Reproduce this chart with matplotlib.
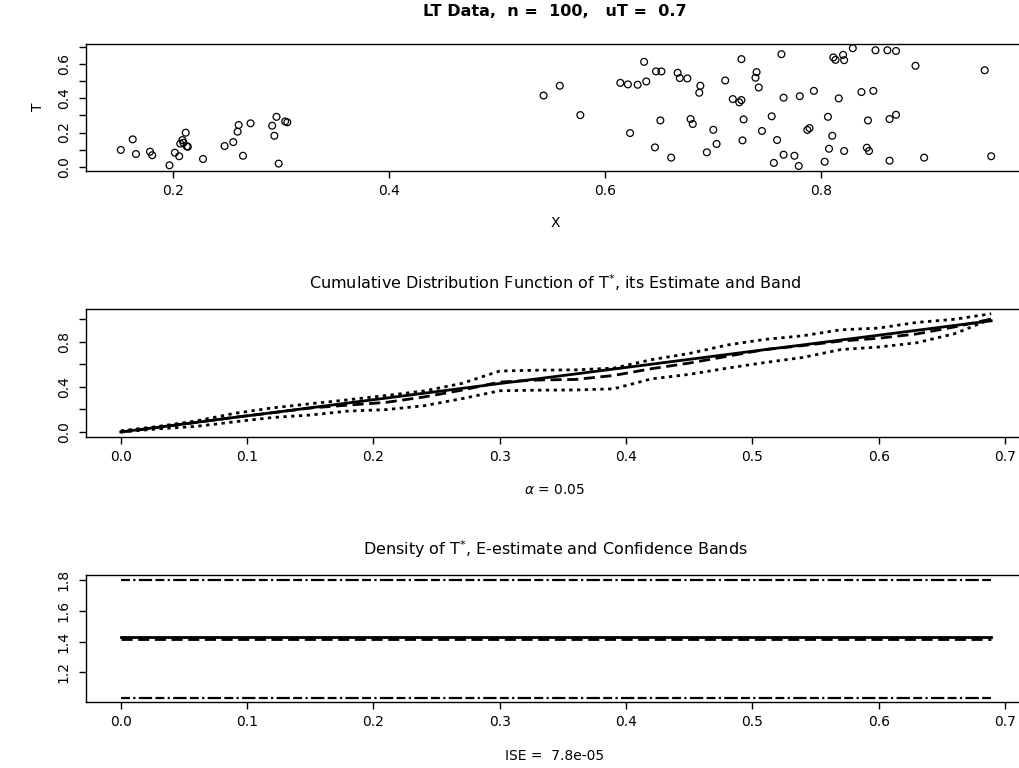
import matplotlib
matplotlib.use("Agg")
import matplotlib.pyplot as plt

plt.rcParams['font.family'] = ['DejaVu Sans']
plt.rcParams['mathtext.fontset'] = 'dejavusans'

# %% data
# LT data: predictor X and observed time T
x_data = [0.152, 0.163, 0.166, 0.179, 0.181, 0.197, 0.202, 0.206, 0.207, 0.209,
          0.210, 0.212, 0.213, 0.214, 0.228, 0.248, 0.256, 0.260, 0.261, 0.265,
          0.272, 0.292, 0.294, 0.296, 0.298, 0.304, 0.306,
          0.543, 0.558, 0.577, 0.614, 0.621, 0.623, 0.630, 0.636, 0.638, 0.646,
          0.647, 0.652, 0.651, 0.661, 0.667, 0.669, 0.676, 0.679, 0.681, 0.688,
          0.687, 0.694, 0.700, 0.703, 0.711, 0.718, 0.726, 0.724, 0.726, 0.727,
          0.728, 0.740, 0.739, 0.742, 0.745, 0.754, 0.756, 0.759, 0.763, 0.765,
          0.765, 0.775, 0.779, 0.780, 0.787, 0.789, 0.793, 0.803, 0.806, 0.807,
          0.810, 0.811, 0.813, 0.816, 0.820, 0.821, 0.821, 0.829, 0.837, 0.842,
          0.843, 0.844, 0.848, 0.850, 0.861, 0.869, 0.863, 0.863, 0.869, 0.887,
          0.895, 0.951, 0.957]
t_data = [0.098, 0.160, 0.074, 0.088, 0.067, 0.008, 0.082, 0.061, 0.135, 0.156,
          0.140, 0.199, 0.119, 0.117, 0.045, 0.121, 0.144, 0.205, 0.244, 0.064,
          0.254, 0.240, 0.181, 0.292, 0.018, 0.265, 0.260,
          0.417, 0.474, 0.302, 0.491, 0.482, 0.197, 0.480, 0.614, 0.499, 0.113,
          0.558, 0.558, 0.271, 0.053, 0.550, 0.519, 0.517, 0.279, 0.250, 0.474,
          0.433, 0.084, 0.216, 0.133, 0.505, 0.396, 0.390, 0.377, 0.630, 0.154,
          0.277, 0.554, 0.521, 0.464, 0.209, 0.295, 0.022, 0.156, 0.659, 0.404,
          0.070, 0.064, 0.004, 0.413, 0.215, 0.226, 0.444, 0.029, 0.292, 0.105,
          0.181, 0.640, 0.626, 0.400, 0.655, 0.624, 0.092, 0.694, 0.437, 0.111,
          0.271, 0.092, 0.444, 0.682, 0.682, 0.678, 0.035, 0.279, 0.304, 0.591,
          0.053, 0.565, 0.061]

# CDF of T*: true, estimate and band
t_grid = [0.0, 0.03, 0.06, 0.09, 0.12, 0.15, 0.18, 0.21, 0.24, 0.27, 0.30, 0.33,
          0.36, 0.39, 0.42, 0.45, 0.48, 0.51, 0.54, 0.57, 0.60, 0.63, 0.66, 0.689]
cdf_true = [0.0, 0.043, 0.086, 0.129, 0.171, 0.214, 0.257, 0.300, 0.343, 0.386,
            0.429, 0.471, 0.514, 0.557, 0.600, 0.643, 0.686, 0.729, 0.771, 0.814,
            0.857, 0.900, 0.943, 0.984]
cdf_est = [0.0, 0.040, 0.085, 0.130, 0.170, 0.212, 0.238, 0.262, 0.310, 0.370,
           0.442, 0.460, 0.465, 0.500, 0.560, 0.610, 0.670, 0.730, 0.765, 0.805,
           0.830, 0.868, 0.930, 1.000]
cdf_up = [0.010, 0.050, 0.098, 0.165, 0.213, 0.250, 0.285, 0.323, 0.363, 0.430,
          0.540, 0.547, 0.550, 0.565, 0.640, 0.695, 0.770, 0.820, 0.852, 0.905,
          0.920, 0.970, 0.998, 1.047]
cdf_low = [0.0, 0.028, 0.050, 0.090, 0.128, 0.150, 0.185, 0.198, 0.232, 0.295,
           0.365, 0.370, 0.372, 0.382, 0.470, 0.510, 0.565, 0.615, 0.660, 0.730,
           0.752, 0.790, 0.870, 1.000]

# density of T*: true, E-estimate and bands
t_dens = [0.0, 0.689]
dens_true = [1.4286, 1.4286]
dens_est = [1.418, 1.418]
dens_up = [1.800, 1.800]
dens_low = [1.037, 1.037]

W, H = 1019, 768


def box(left, top, right, bottom):
    return [left / W, 1 - bottom / H, (right - left) / W, (bottom - top) / H]


def pad_range(v):
    lo, hi = min(v), max(v)
    r = hi - lo
    return lo - 0.04 * r, hi + 0.04 * r


def style(ax, yticks, ylabels):
    for s in ax.spines.values():
        s.set_linewidth(1.0)
    ax.tick_params(direction='out', length=5, width=1, labelsize=10)
    ax.tick_params(axis='x', pad=4.5)
    ax.tick_params(axis='y', pad=6)
    ax.set_yticks(yticks)
    ax.set_yticklabels(ylabels, rotation=90, va='center')


def ftext(px, py, s, **kw):
    fig.text(px / W, 1 - py / H, s, ha='center', va='center', **kw)


fig = plt.figure(figsize=(W / 100, H / 100), dpi=100)

# %% scatter of the LT data
ax1 = fig.add_axes(box(86, 43.5, 1026, 170.7))
ax1.scatter(x_data, t_data, s=24, facecolors='none', edgecolors='black', linewidths=0.9)
ax1.set_xlim(pad_range(x_data))
ax1.set_ylim(pad_range(t_data))
ax1.set_xticks([0.2, 0.4, 0.6, 0.8])
ax1.set_xticklabels(['0.2', '0.4', '0.6', '0.8'])
style(ax1, [0.0, 0.1, 0.2, 0.3, 0.4, 0.5, 0.6, 0.7],
      ['0.0', '', '0.2', '', '0.4', '', '0.6', ''])
ftext(555, 11, 'LT Data,  n =  100,   uT =  0.7', fontsize=11.5, fontweight='bold')
ftext(555, 223, 'X', fontsize=10)
ftext(38, 107, 'T', fontsize=10, rotation=90)

# %% CDF, its estimate and band
ax2 = fig.add_axes(box(86, 309, 1026, 436.7))
ax2.plot(t_grid, cdf_true, color='black', lw=2)
ax2.plot(t_grid, cdf_est, color='black', lw=2, linestyle=(0, (4, 2)))
ax2.plot(t_grid, cdf_up, color='black', lw=2, linestyle=(0, (1.2, 1.6)))
ax2.plot(t_grid, cdf_low, color='black', lw=2, linestyle=(0, (1.2, 1.6)))
ax2.set_xlim(pad_range(t_grid))
ax2.set_ylim(pad_range(cdf_true + cdf_est + cdf_up + cdf_low))
ax2.set_xticks([0.0, 0.1, 0.2, 0.3, 0.4, 0.5, 0.6, 0.7])
style(ax2, [0.0, 0.2, 0.4, 0.6, 0.8, 1.0], ['0.0', '', '0.4', '', '0.8', ''])
ftext(555, 283, 'Cumulative Distribution Function of T$^{*}$, its Estimate and Band', fontsize=11.5)
ftext(555, 490, r'$\alpha$ = 0.05', fontsize=10)

# %% density, E-estimate and confidence bands
ax3 = fig.add_axes(box(86, 575, 1026, 702.3))
ax3.plot(t_dens, dens_true, color='black', lw=2)
ax3.plot(t_dens, dens_est, color='black', lw=2, linestyle=(0, (4, 2)))
ax3.plot(t_dens, dens_up, color='black', lw=1.6, linestyle=(0, (4, 1.5, 1, 1.5, 6, 1.5)))
ax3.plot(t_dens, dens_low, color='black', lw=1.6, linestyle=(0, (4, 1.5, 1, 1.5, 6, 1.5)))
ax3.set_xlim(pad_range(t_grid))
ax3.set_ylim(pad_range(dens_true + dens_est + dens_up + dens_low))
ax3.set_xticks([0.0, 0.1, 0.2, 0.3, 0.4, 0.5, 0.6, 0.7])
style(ax3, [1.2, 1.4, 1.6, 1.8], ['1.2', '1.4', '1.6', '1.8'])
ftext(555, 549, 'Density of T$^{*}$, E-estimate and Confidence Bands', fontsize=11.5)
ftext(555, 756, 'ISE =  7.8e-05', fontsize=10)

fig.savefig('out.png', dpi=100)
